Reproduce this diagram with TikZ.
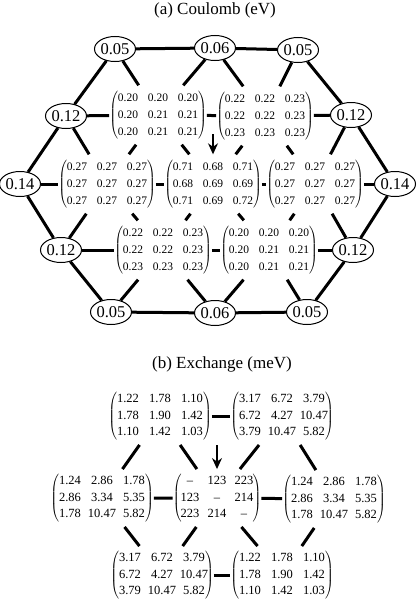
\documentclass[tikz,border=0pt]{standalone}
\usepackage{fontspec}
\usepackage{array}
\setmainfont{Liberation Serif}
\usetikzlibrary{shapes.geometric,arrows.meta}

% 3x3 矩阵（带圆括号），可选参数为列宽
\newcommand{\tmat}[2][22pt]{$\delimiterfactor=850\delimitershortfall=8pt\left(\begin{tabular}{@{}w{c}{#1}@{\hspace{10pt}}w{c}{#1}@{\hspace{10pt}}w{c}{#1}@{}}#2\end{tabular}\right)$}

\begin{document}
\begin{tikzpicture}[x=1pt,y=-1pt,
	site/.style={ellipse,draw,line width=1pt,minimum width=41pt,minimum height=25pt,inner sep=0pt,font=\fontsize{16.5}{18}\selectfont},
	cmat/.style={inner xsep=0pt,inner ysep=4pt,font=\fontsize{11.5}{17}\selectfont},
	xmat/.style={inner xsep=0pt,inner ysep=4pt,font=\fontsize{12.5}{16.5}\selectfont},
	bond/.style={line width=3pt},
	hint/.style={line width=1.2pt,-{Stealth[length=11pt,width=10pt]}}]
	\useasboundingbox (0,0) rectangle (416,605);
	
	% (a) 标题
	\node[font=\fontsize{17}{20}\selectfont] (ta) at (215,10) {(a) Coulomb (eV)};
	
	% 外圈椭圆
	\node[site] (t1) at (115,49) {0.05};
	\node[site] (t2) at (215,48) {0.06};
	\node[site] (t3) at (298,50) {0.05};
	\node[site] (l1) at (66,116) {0.12};
	\node[site] (r1) at (351,115) {0.12};
	\node[site] (l2) at (20,184) {0.14};
	\node[site] (r2) at (395,184) {0.14};
	\node[site] (l3) at (61,250) {0.12};
	\node[site] (r3) at (353,250) {0.12};
	\node[site] (b1) at (111,312) {0.05};
	\node[site] (b2) at (215,313) {0.06};
	\node[site] (b3) at (307,312) {0.05};
	
	% 内部矩阵
	\node[cmat] (ma1) at (158,115) {\tmat[20pt]{0.20 & 0.20 & 0.20\\ 0.20 & 0.21 & 0.21\\ 0.20 & 0.21 & 0.21}};
	\node[cmat] (ma2) at (265,116) {\tmat[20pt]{0.22 & 0.22 & 0.23\\ 0.22 & 0.22 & 0.23\\ 0.23 & 0.23 & 0.23}};
	\node[cmat] (ma3) at (107,184) {\tmat[20pt]{0.27 & 0.27 & 0.27\\ 0.27 & 0.27 & 0.27\\ 0.27 & 0.27 & 0.27}};
	\node[cmat] (ma4) at (213,184) {\tmat[20pt]{0.71 & 0.68 & 0.71\\ 0.68 & 0.69 & 0.69\\ 0.71 & 0.69 & 0.72}};
	\node[cmat] (ma5) at (315,184) {\tmat[20pt]{0.27 & 0.27 & 0.27\\ 0.27 & 0.27 & 0.27\\ 0.27 & 0.27 & 0.27}};
	\node[cmat] (ma6) at (163,250) {\tmat[20pt]{0.22 & 0.22 & 0.23\\ 0.22 & 0.22 & 0.23\\ 0.23 & 0.23 & 0.23}};
	\node[cmat] (ma7) at (269,250) {\tmat[20pt]{0.20 & 0.20 & 0.20\\ 0.20 & 0.21 & 0.21\\ 0.20 & 0.21 & 0.21}};
	
	% 横线
	\draw[bond] (t1) -- (t2) -- (t3);
	\draw[bond] (l1) -- (ma1) -- (ma2) -- (r1);
	\draw[bond] (l2) -- (ma3) -- (ma4) -- (ma5) -- (r2);
	\draw[bond] (l3) -- (ma6) -- (ma7) -- (r3);
	\draw[bond] (b1) -- (b2) -- (b3);
	% 斜线
	\draw[bond] (t1) -- (l1); \draw[bond] (t1) -- (ma1);
	\draw[bond] (t2) -- (ma1); \draw[bond] (t2) -- (ma2);
	\draw[bond] (t3) -- (ma2); \draw[bond] (t3) -- (r1);
	\draw[bond] (l1) -- (l2); \draw[bond] (l1) -- (ma3);
	\draw[bond] (ma1) -- (ma3); \draw[bond] (ma1) -- (ma4);
	\draw[bond] (ma2) -- (ma4); \draw[bond] (ma2) -- (ma5);
	\draw[bond] (r1) -- (ma5); \draw[bond] (r1) -- (r2);
	\draw[bond] (l2) -- (l3); \draw[bond] (ma3) -- (l3);
	\draw[bond] (ma3) -- (ma6); \draw[bond] (ma4) -- (ma6);
	\draw[bond] (ma4) -- (ma7); \draw[bond] (ma5) -- (ma7);
	\draw[bond] (ma5) -- (r3); \draw[bond] (r2) -- (r3);
	\draw[bond] (l3) -- (b1); \draw[bond] (ma6) -- (b1);
	\draw[bond] (ma6) -- (b2); \draw[bond] (ma7) -- (b2);
	\draw[bond] (ma7) -- (b3); \draw[bond] (r3) -- (b3);
	
	% 箭头
	\coordinate (pa) at (213,134);
	\draw[hint] (pa) -- (ma4);
	
	% (b) 标题
	\node[font=\fontsize{17}{20}\selectfont] (tb) at (222,364) {(b) Exchange (meV)};
	
	\node[xmat] (mb1) at (160,416) {\tmat{1.22 & 1.78 & 1.10\\ 1.78 & 1.90 & 1.42\\ 1.10 & 1.42 & 1.03}};
	\node[xmat] (mb2) at (282,416) {\tmat{3.17 & 6.72 & 3.79\\ 6.72 & 4.27 & 10.47\\ 3.79 & 10.47 & 5.82}};
	\node[xmat] (mb3) at (102,498) {\tmat{1.24 & 2.86 & 1.78\\ 2.86 & 3.34 & 5.35\\ 1.78 & 10.47 & 5.82}};
	\node[xmat] (mb4) at (217,498) {\tmat[17pt]{-- & 123 & 223\\ 123 & -- & 214\\ 223 & 214 & --}};
	\node[xmat] (mb5) at (334,499) {\tmat{1.24 & 2.86 & 1.78\\ 2.86 & 3.34 & 5.35\\ 1.78 & 10.47 & 5.82}};
	\node[xmat] (mb6) at (162,575) {\tmat{3.17 & 6.72 & 3.79\\ 6.72 & 4.27 & 10.47\\ 3.79 & 10.47 & 5.82}};
	\node[xmat] (mb7) at (282,575) {\tmat{1.22 & 1.78 & 1.10\\ 1.78 & 1.90 & 1.42\\ 1.10 & 1.42 & 1.03}};
	
	\draw[bond] (mb1) -- (mb2);
	\draw[bond] (mb3) -- (mb4) -- (mb5);
	\draw[bond] (mb6) -- (mb7);
	\draw[bond] (mb1) -- (mb3); \draw[bond] (mb1) -- (mb4);
	\draw[bond] (mb2) -- (mb4); \draw[bond] (mb2) -- (mb5);
	\draw[bond] (mb3) -- (mb6); \draw[bond] (mb4) -- (mb6);
	\draw[bond] (mb4) -- (mb7); \draw[bond] (mb5) -- (mb7);
	
	\coordinate (pb) at (217,445);
	\draw[hint] (pb) -- (mb4);
\end{tikzpicture}
\end{document}
